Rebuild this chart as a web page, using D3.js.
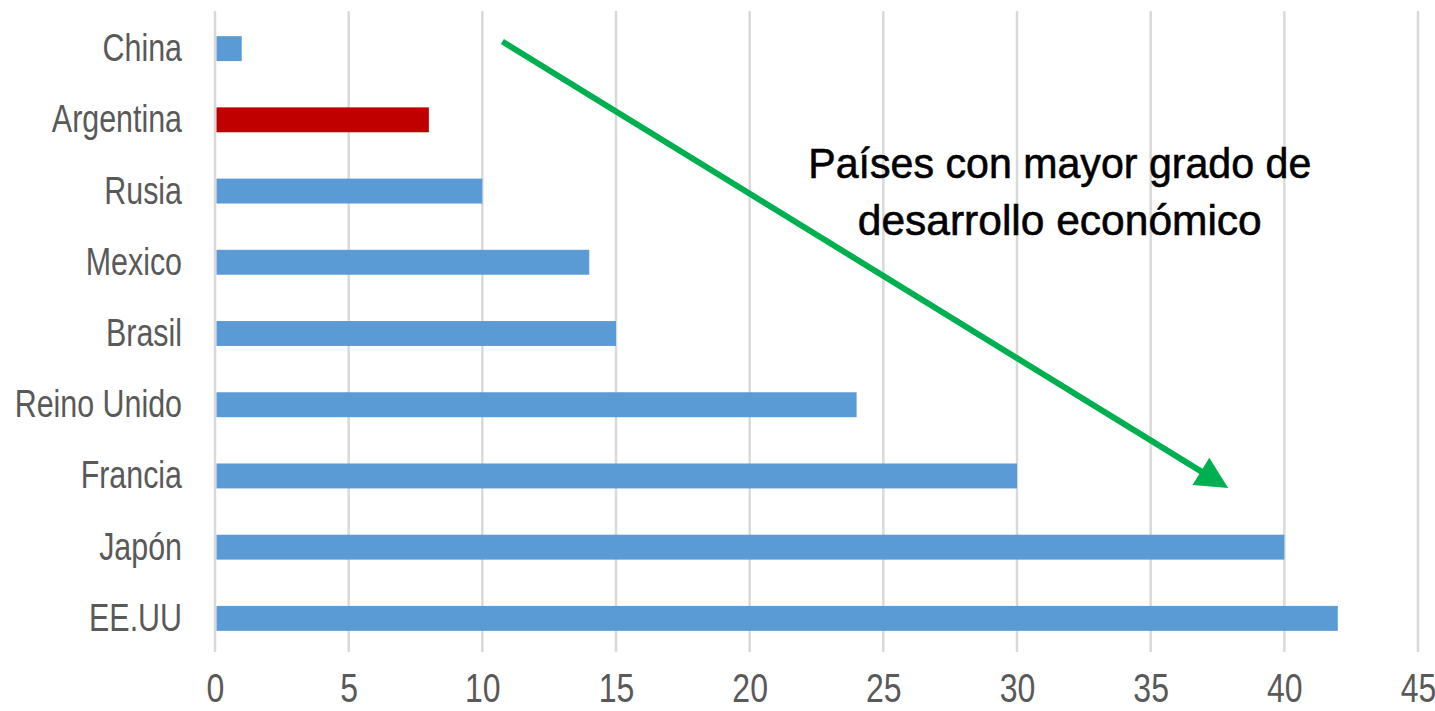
<!DOCTYPE html>
<html>
<head>
<meta charset="utf-8">
<script src="https://cdnjs.cloudflare.com/ajax/libs/d3/7.8.5/d3.min.js"></script>
<style>
  html, body { margin: 0; padding: 0; background: #fff; }
  svg { display: block; font-family: "Liberation Sans", Arial, sans-serif; }
</style>
</head>
<body>
<div id="chart"></div>
<script>
// Data
const countries = ['China', 'Argentina', 'Rusia', 'Mexico', 'Brasil', 'Reino Unido', 'Francia', 'Japón', 'EE.UU'];
const values = [1, 8, 10, 14, 15, 24, 30, 40, 42];
const highlighted = ['Argentina'];
const xTicks = [0, 5, 10, 15, 20, 25, 30, 35, 40, 45];
const noteLines = ['Países con mayor grado de', 'desarrollo económico'];

class BarChart {
  constructor(containerId, options = {}) {
    this.options = {
      width: 1435,
      height: 711,
      plotLeft: 215,
      plotRight: 1418,
      plotTop: 11,
      plotBottom: 652,
      labelRight: 182,
      tickBaseline: 702,
      barColor: '#5b9bd5',
      highlightColor: '#c00000',
      gridColor: '#d9d9d9',
      textColor: '#595959',
      arrowColor: '#00b050',
      labelSize: 38,
      tickSize: 40,
      squeeze: 0.8,
      // annotation, in value units (x) and row units (y, 0 = first row)
      arrowFrom: [10.75, -0.1],
      arrowTo: [37.9, 6.17],
      noteX: 31.6,
      noteRows: [1.81, 2.62],
      noteWidths: [503, 404],
      noteSize: 43,
      ...options
    };
    this.container = document.getElementById(containerId);
    this.draw();
  }

  draw() {
    const o = this.options;
    this.svg = d3.select(this.container).append('svg')
      .attr('width', o.width)
      .attr('height', o.height);

    this.x = d3.scaleLinear().domain([0, 45]).range([o.plotLeft, o.plotRight]);
    this.y = d3.scaleBand().domain(countries)
      .range([o.plotTop + 2, o.plotBottom + 2])
      .paddingInner(0.65)
      .paddingOuter(0.325);

    // row index -> vertical center of that row
    const first = this.y(countries[0]) + this.y.bandwidth() / 2;
    this.row = d3.scaleLinear().domain([0, 1]).range([first, first + this.y.step()]);

    this.drawGrid();
    this.drawBars();
    this.drawAxes();
    this.drawNote();
  }

  drawGrid() {
    const o = this.options;
    this.svg.append('g').attr('class', 'grid')
      .selectAll('line')
      .data(xTicks)
      .join('line')
      .attr('x1', d => this.x(d))
      .attr('x2', d => this.x(d))
      .attr('y1', o.plotTop)
      .attr('y2', o.plotBottom)
      .attr('stroke', o.gridColor)
      .attr('stroke-width', 2.5);
  }

  drawBars() {
    const o = this.options;
    const rows = countries.map((c, i) => ({ name: c, value: values[i] }));
    this.svg.append('g').attr('class', 'bars')
      .selectAll('rect')
      .data(rows)
      .join('rect')
      .attr('x', this.x(0) + 1.5)
      .attr('y', d => this.y(d.name))
      .attr('width', d => this.x(d.value) - this.x(0) - 1.5)
      .attr('height', this.y.bandwidth())
      .attr('fill', d => highlighted.includes(d.name) ? o.highlightColor : o.barColor);
  }

  drawAxes() {
    const o = this.options;

    const xAxis = this.svg.append('g')
      .attr('transform', `translate(0,${o.tickBaseline})`)
      .call(d3.axisBottom(this.x).tickValues(xTicks).tickSize(0).tickPadding(0));
    xAxis.select('.domain').remove();
    xAxis.selectAll('text')
      .attr('y', 0)
      .attr('dy', 0)
      .attr('font-size', o.tickSize)
      .attr('font-family', '"Liberation Sans", Arial, sans-serif')
      .attr('fill', o.textColor)
      .attr('transform', `scale(${o.squeeze},1)`);

    const yAxis = this.svg.append('g')
      .attr('transform', `translate(${o.labelRight},0)`)
      .call(d3.axisLeft(this.y).tickSize(0).tickPadding(0));
    yAxis.select('.domain').remove();
    yAxis.selectAll('text')
      .attr('x', 0)
      .attr('dy', '0.33em')
      .attr('text-anchor', 'end')
      .attr('font-size', o.labelSize)
      .attr('font-family', '"Liberation Sans", Arial, sans-serif')
      .attr('fill', o.textColor)
      .attr('transform', `scale(${o.squeeze},1)`);
  }

  drawNote() {
    const o = this.options;
    const x0 = this.x(o.arrowFrom[0]), y0 = this.row(o.arrowFrom[1]);
    const x1 = this.x(o.arrowTo[0]), y1 = this.row(o.arrowTo[1]);
    const len = Math.hypot(x1 - x0, y1 - y0);
    const ux = (x1 - x0) / len, uy = (y1 - y0) / len;
    const head = 32, half = 16;
    const bx = x1 - ux * head, by = y1 - uy * head;

    const g = this.svg.append('g').attr('class', 'note');
    g.append('line')
      .attr('x1', x0).attr('y1', y0)
      .attr('x2', bx + ux * 4).attr('y2', by + uy * 4)
      .attr('stroke', o.arrowColor)
      .attr('stroke-width', 6);
    g.append('path')
      .attr('d', `M${x1},${y1}L${bx - uy * half},${by + ux * half}L${bx + uy * half},${by - ux * half}Z`)
      .attr('fill', o.arrowColor);

    g.selectAll('text')
      .data(noteLines)
      .join('text')
      .attr('x', this.x(o.noteX))
      .attr('y', (d, i) => this.row(o.noteRows[i]))
      .attr('text-anchor', 'middle')
      .attr('font-size', o.noteSize)
      .attr('textLength', (d, i) => o.noteWidths[i])
      .attr('lengthAdjust', 'spacingAndGlyphs')
      .attr('fill', '#000')
      .attr('stroke', '#000')
      .attr('stroke-width', 0.6)
      .text(d => d);
  }
}

document.addEventListener('DOMContentLoaded', () => {
  new BarChart('chart');
});
</script>
</body>
</html>
